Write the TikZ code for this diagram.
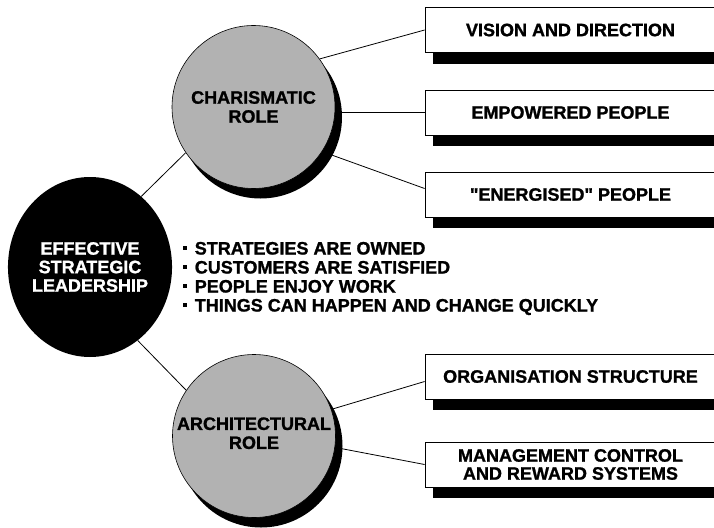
\documentclass[tikz,border=0pt]{standalone}
\usepackage{fontspec}
\setmainfont{Liberation Sans}[Ligatures=TeXOff, BoldFeatures={FakeBold=1.2}]
\usetikzlibrary{shapes.geometric,shadows,backgrounds}

\newcommand{\bul}{\rule[4.6pt]{3.6pt}{3.6pt}\hspace{8pt}}

\tikzset{
  lead/.style={ellipse, fill=black, text=white, minimum width=160pt,
    minimum height=180pt, inner sep=0pt, align=center,
    font=\bfseries\fontsize{18}{18.5}\selectfont},
  role/.style={circle, fill=black!30, draw=black, line width=0.6pt,
    minimum size=163pt, inner sep=0pt, align=center,
    font=\bfseries\fontsize{18}{19}\selectfont,
    drop shadow={opacity=1, fill=black, shadow xshift=7pt, shadow yshift=-10pt}},
  result/.style={rectangle, draw, fill=white, line width=0.8pt,
    minimum width=291pt, minimum height=45pt, inner sep=0pt, align=center,
    font=\bfseries\fontsize{18}{18}\selectfont,
    drop shadow={opacity=1, fill=black, shadow xshift=8pt, shadow yshift=-11pt}},
  link/.style={line width=0.8pt}
}

\begin{document}
\begin{tikzpicture}[x=1pt, y=-1pt]

        \useasboundingbox (0,0) rectangle (714,527);

        % Leadership entity
        \node[lead] (lead) at (90,267) {EFFECTIVE\\STRATEGIC\\LEADERSHIP};

        % Role entities
        \node[role] (char) at (253.5,107) {CHARISMATIC\\ROLE};
        \node[role] (arch) at (254,436) {\\[-12pt]ARCHITECTURAL\\ROLE};

        % Outcome boxes
        \node[result] (vis) at (570.5,30) {VISION AND DIRECTION};
        \node[result] (emp) at (570.5,112.5) {EMPOWERED PEOPLE};
        \node[result] (ene) at (570.5,194.5) {"ENERGISED" PEOPLE};
        \node[result] (org) at (570.5,376.5) {ORGANISATION STRUCTURE};
        \node[result] (mgt) at (570.5,464.5) {MANAGEMENT CONTROL\\AND REWARD SYSTEMS};

        % Results list
        \node[anchor=west, align=left, inner sep=0pt,
          font=\bfseries\fontsize{18}{19}\selectfont] (list) at (183,278.5)
          {\bul STRATEGIES ARE OWNED\\
           \bul CUSTOMERS ARE SATISFIED\\
           \bul PEOPLE ENJOY WORK\\
           \bul THINGS CAN HAPPEN AND CHANGE QUICKLY};

        % Links behind the shapes
        \begin{scope}[on background layer]
          \draw[link] (lead.54) -- (char.214);
          \draw[link] (lead.-57) -- (arch.146);
          \draw[link] (char.36) -- (vis.west);
          \draw[link] (emp.west -| char.east) -- (emp.west);
          \draw[link] (char.-33) -- ([yshift=6pt]ene.west);
          \draw[link] (arch.19) -- ([yshift=-5pt]org.west);
          \draw[link] (arch.-8) -- (mgt.west);
        \end{scope}
    \end{tikzpicture}
\end{document}
